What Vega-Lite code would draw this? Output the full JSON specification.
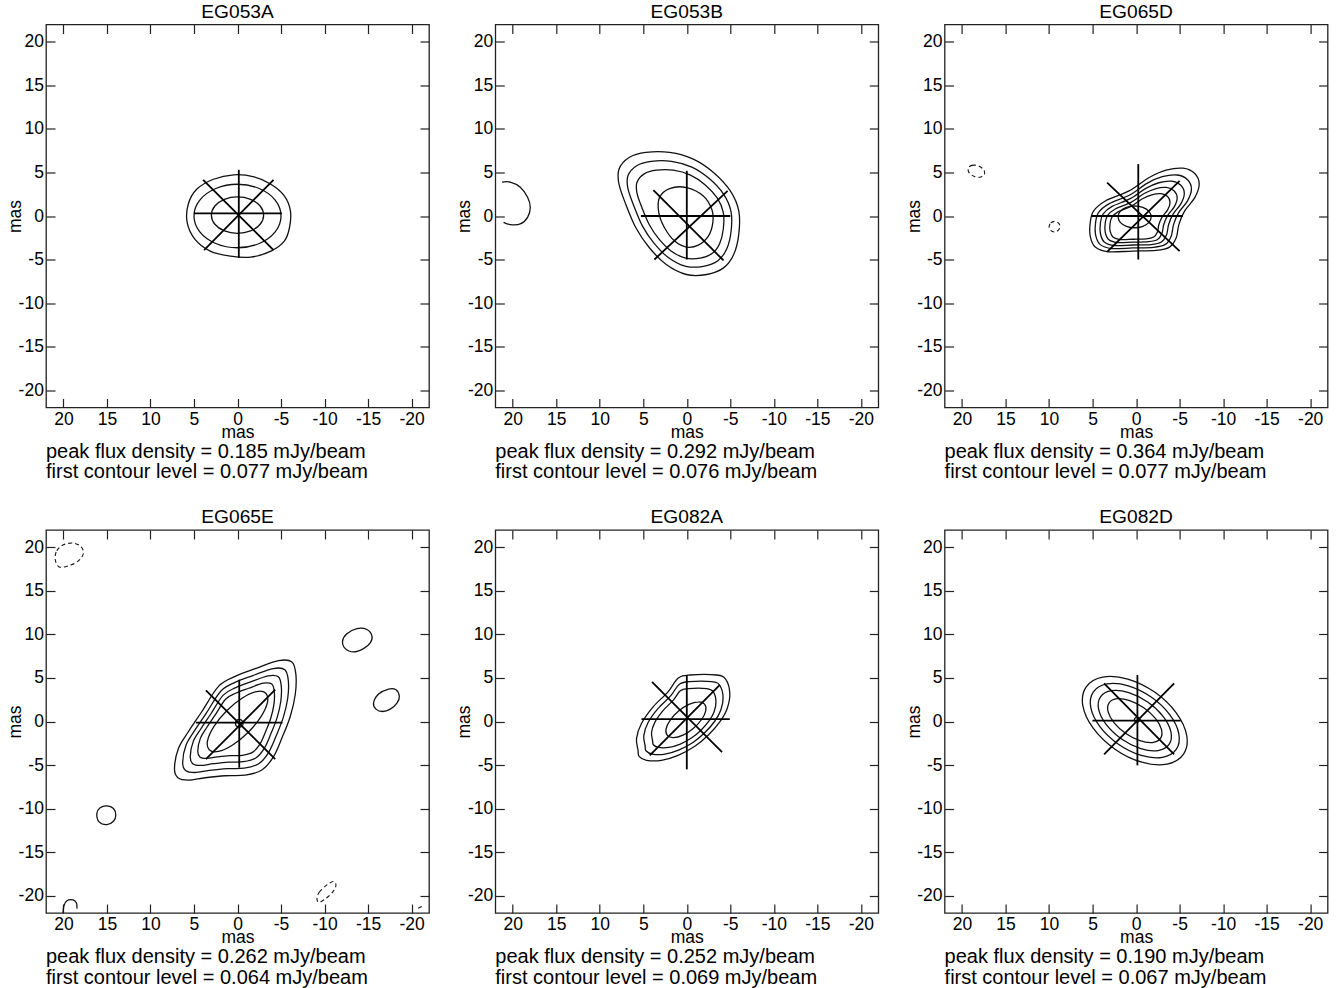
{
  "$schema": "https://vega.github.io/schema/vega-lite/v6.json",
  "background": "white",
  "padding": {"left": 5, "top": 1.5, "right": 5, "bottom": 5},
  "data": {"values": [
    {"p":"EG053A","k":"c","id":"a1","i":[0,1,2,3,4,5,6,7,8,9,10,11,12,13,14,15],"x":[0.43,-1.90,-3.84,-5.38,-6.08,-5.97,-5.38,-3.84,-1.51,0.81,3.14,4.88,5.78,5.66,4.69,2.76],"y":[4.73,4.50,3.65,2.31,0.58,-1.35,-2.88,-4.03,-4.73,-4.61,-4.03,-2.69,-0.77,1.35,3.07,4.22]},
    {"p":"EG053A","k":"c","id":"a2","i":[0,1,2,3,4,5,6,7,8,9,10,11],"x":[5.0,4.33,2.5,0,-2.5,-4.33,-5.0,-4.33,-2.5,0,2.5,4.33],"y":[0,1.83,3.16,3.65,3.16,1.83,0,-1.83,-3.16,-3.65,-3.16,-1.83]},
    {"p":"EG053A","k":"c","id":"a3","i":[0,1,2,3,4,5,6,7,8,9,10,11],"x":[3.0,2.6,1.5,0,-1.5,-2.6,-3.0,-2.6,-1.5,0,1.5,2.6],"y":[0.1,1.15,1.92,2.2,1.92,1.15,0.1,-0.95,-1.72,-2.0,-1.72,-0.95]},
    {"p":"EG053A","k":"x","x":[5.0,-0.15,3.95,3.84],"y":[0.3,5.3,4.16,-3.91],"x2":[-5.1,-0.15,-4.14,-4.14],"y2":[0.3,-4.8,-3.91,4.16]},
    {"p":"EG053A","k":"n","note":"peak flux density = 0.185 mJy/beam\nfirst contour level = 0.077 mJy/beam"},

    {"p":"EG053B","k":"o","id":"b0","i":[0,1,2,3,4,5,6,7,8],"x":[21.23,20.28,19.13,18.29,17.98,18.29,19.13,20.28,21.05],"y":[3.89,3.89,3.31,2.16,1.0,-0.15,-0.91,-0.99,-0.73]},
    {"p":"EG053B","k":"c","id":"b1","i":[0,1,2,3,4,5,6,7,8,9,10,11,12,13,14,15,16,17],"x":[7.79,6.63,4.69,1.98,-0.74,-3.06,-5.0,-5.97,-5.97,-5.39,-4.22,-2.29,0.04,2.36,4.30,5.85,7.01,7.79],"y":[5.38,6.72,7.30,7.30,6.53,5.0,2.88,0.58,-2.11,-4.42,-5.96,-6.72,-6.72,-5.57,-3.65,-1.35,1.35,3.65]},
    {"p":"EG053B","k":"c","id":"b2","i":[0,1,2,3,4,5,6,7,8,9,10,11,12,13,14,15,16,17],"x":[6.76,5.76,4.09,1.76,-0.58,-2.58,-4.24,-5.08,-5.08,-4.58,-3.57,-1.91,0.09,2.09,3.75,5.09,6.08,6.76],"y":[4.63,5.78,6.28,6.28,5.62,4.30,2.48,0.50,-1.81,-3.80,-5.13,-5.78,-5.78,-4.79,-3.14,-1.16,1.16,3.14]},
    {"p":"EG053B","k":"c","id":"b3","i":[0,1,2,3,4,5,6,7,8,9,10,11,12,13,14,15,16,17],"x":[5.72,4.89,3.49,1.54,-0.42,-2.09,-3.49,-4.19,-4.19,-3.77,-2.93,-1.54,0.14,1.81,3.21,4.32,5.16,5.72],"y":[3.87,4.84,5.26,5.26,4.70,3.60,2.07,0.42,-1.52,-3.18,-4.29,-4.84,-4.84,-4.01,-2.63,-0.97,0.97,2.63]},
    {"p":"EG053B","k":"c","id":"b4","i":[0,1,2,3,4,5,6,7,8,9,10,11],"x":[3.14,1.98,0.04,-1.90,-2.87,-2.99,-2.48,-1.32,0.04,1.40,2.56,3.22],"y":[2.11,3.15,3.27,2.31,0.77,-0.77,-2.31,-3.35,-3.57,-2.88,-1.35,0.38]},
    {"p":"EG053B","k":"x","x":[5.27,0,3.84,3.72],"y":[0,5.19,2.96,-5.0],"x2":[-5.0,0,-4.22,-4.69],"y2":[0,-5.0,-5.11,2.88]},
    {"p":"EG053B","k":"n","note":"peak flux density = 0.292 mJy/beam\nfirst contour level = 0.076 mJy/beam"},

    {"p":"EG065D","k":"cd","id":"cd1","i":[0,1,2,3,4,5,6,7],"x":[19.29,18.86,18.13,17.53,17.41,17.84,18.57,19.17],"y":[5.49,5.82,5.76,5.34,4.81,4.48,4.54,4.96]},
    {"p":"EG065D","k":"cd","id":"cd2","i":[0,1,2,3,4,5,6,7],"x":[9.99,9.8,9.35,8.9,8.75,8.95,9.4,9.85],"y":[-1.2,-0.8,-0.62,-0.82,-1.25,-1.65,-1.84,-1.62]},
    {"p":"EG065D","k":"c","id":"c1","i":[0,1,2,3,4,5,6,7,8,9,10,11,12,13,14,15,16,17,18],"x":[5.27,4.88,3.53,0.81,-1.51,-3.45,-5.39,-6.74,-7.25,-6.74,-5.58,-4.92,-4.61,-3.84,-2.29,0.43,3.14,4.69,5.27],"y":[-0.77,0.58,1.73,2.88,4.42,5.26,5.49,4.88,3.65,2.11,0.58,-0.96,-2.50,-3.57,-3.96,-4.03,-4.11,-3.57,-2.31]},
    {"p":"EG065D","k":"c","id":"c2","i":[0,1,2,3,4,5,6,7,8,9,10,11,12,13,14,15,16,17,18],"x":[4.66,4.32,3.13,0.74,-1.30,-3.01,-4.72,-5.91,-6.36,-5.91,-4.89,-4.31,-4.03,-3.36,-1.99,0.40,2.79,4.15,4.66],"y":[-0.80,0.39,1.40,2.41,3.77,4.51,4.71,4.17,3.09,1.74,0.39,-0.96,-2.32,-3.26,-3.60,-3.67,-3.74,-3.26,-2.15]},
    {"p":"EG065D","k":"c","id":"c3","i":[0,1,2,3,4,5,6,7,8,9,10,11,12,13,14,15,16,17,18],"x":[4.10,3.80,2.76,0.67,-1.12,-2.61,-4.10,-5.14,-5.54,-5.14,-4.25,-3.74,-3.50,-2.91,-1.72,0.38,2.46,3.66,4.10],"y":[-0.82,0.22,1.10,1.99,3.17,3.82,4.00,3.53,2.58,1.39,0.22,-0.97,-2.16,-2.98,-3.28,-3.33,-3.39,-2.98,-2.01]},
    {"p":"EG065D","k":"c","id":"c4","i":[0,1,2,3,4,5,6,7,8,9,10,11,12,13,14,15,16,17,18],"x":[3.55,3.29,2.40,0.60,-0.93,-2.21,-3.49,-4.38,-4.72,-4.38,-3.61,-3.18,-2.97,-2.47,-1.44,0.35,2.14,3.16,3.55],"y":[-0.85,0.04,0.80,1.56,2.58,3.13,3.28,2.88,2.07,1.05,0.04,-0.97,-1.99,-2.70,-2.95,-3.00,-3.05,-2.70,-1.86]},
    {"p":"EG065D","k":"c","id":"c5","i":[0,1,2,3,4,5,6,7,8,9,10,11,12,13,14,15,16,17,18],"x":[2.99,2.77,2.03,0.54,-0.74,-1.81,-2.87,-3.62,-3.90,-3.62,-2.98,-2.62,-2.45,-2.02,-1.17,0.33,1.82,2.67,2.99],"y":[-0.87,-0.13,0.50,1.13,1.98,2.44,2.57,2.23,1.56,0.71,-0.13,-0.98,-1.83,-2.41,-2.63,-2.67,-2.71,-2.41,-1.72]},
    {"p":"EG065D","k":"c","id":"c6","i":[0,1,2,3,4,5,6,7,8,9,10,11],"x":[2.07,1.82,1.12,0.17,-0.78,-1.48,-1.73,-1.48,-0.78,0.17,1.12,1.82],"y":[-0.1,0.53,0.98,1.15,0.98,0.53,-0.1,-0.73,-1.18,-1.35,-1.18,-0.73]},
    {"p":"EG065D","k":"x","x":[5.08,-0.25,3.33,3.33],"y":[0,5.96,3.84,-4.11],"x2":[-5.39,-0.25,-5.0,-5.0],"y2":[0,-5.0,-4.03,4.03]},
    {"p":"EG065D","k":"n","note":"peak flux density = 0.364 mJy/beam\nfirst contour level = 0.077 mJy/beam"},

    {"p":"EG065E","k":"cd","id":"dn1","i":[0,1,2,3,4,5,6,7,8],"x":[20.95,20.76,20.0,18.85,17.97,17.70,18.28,19.43,20.49],"y":[18.64,19.61,20.3,20.49,20.07,19.30,18.45,17.88,17.76]},
    {"p":"EG065E","k":"cd","id":"dn2","i":[0,1,2,3,4,5,6,7],"x":[-9.13,-9.39,-10.28,-11.03,-11.31,-10.92,-10.08,-9.39],"y":[-20.38,-19.61,-18.77,-18.38,-18.84,-19.61,-20.38,-20.76]},
    {"p":"EG065E","k":"c","id":"de1","i":[0,1,2,3,4,5,6,7,8],"x":[-12.07,-12.57,-13.72,-14.87,-15.45,-15.25,-14.48,-13.33,-12.38],"y":[9.23,10.07,10.68,10.57,9.80,9.03,8.37,7.99,8.37]},
    {"p":"EG065E","k":"c","id":"de2","i":[0,1,2,3,4,5,6,7,8],"x":[-15.63,-16.21,-17.36,-18.21,-18.59,-18.32,-17.55,-16.67,-15.91],"y":[2.11,3.15,3.73,3.65,2.88,2.11,1.42,1.15,1.42]},
    {"p":"EG065E","k":"c","id":"de3","i":[0,1,2,3,4,5,6,7],"x":[16.16,15.78,15.01,14.25,13.98,14.25,15.01,15.90],"y":[-10.58,-9.92,-9.69,-10.0,-10.77,-11.46,-11.85,-11.53]},
    {"p":"EG065E","k":"o","id":"do1","i":[0,1,2,3,4,5],"x":[20.05,19.95,19.6,18.9,18.5,18.45],"y":[-22.3,-21.2,-20.6,-20.5,-20.85,-21.5]},
    {"p":"EG065E","k":"od","id":"do2","i":[0,1],"x":[-20.75,-21.4],"y":[-21.45,-21.15]},
    {"p":"EG065E","k":"c","id":"d1","i":[0,1,2,3,4,5,6,7,8,9,10,11,12,13,14,15,16,17,18,19],"x":[7.24,6.78,5.63,4.09,2.18,0.26,-2.03,-4.71,-6.25,-6.71,-6.63,-6.06,-5.17,-4.14,-2.80,-0.89,1.41,3.71,5.63,6.85],"y":[-5.39,-3.08,-1.15,1.15,4.04,5.19,6.07,6.99,6.84,5.38,3.07,0.58,-1.73,-4.04,-5.58,-6.16,-6.23,-6.46,-6.73,-6.46]},
    {"p":"EG065E","k":"c","id":"d2","i":[0,1,2,3,4,5,6,7,8,9,10,11,12,13,14,15,16,17,18,19],"x":[6.30,5.90,4.90,3.56,1.90,0.23,-1.77,-4.10,-5.44,-5.84,-5.77,-5.27,-4.50,-3.60,-2.44,-0.77,1.23,3.23,4.90,5.96],"y":[-4.69,-2.68,-1.00,1.00,3.51,4.52,5.28,6.08,5.95,4.68,2.67,0.50,-1.51,-3.51,-4.85,-5.36,-5.42,-5.62,-5.86,-5.62]},
    {"p":"EG065E","k":"c","id":"d3","i":[0,1,2,3,4,5,6,7,8,9,10,11,12,13,14,15,16,17,18,19],"x":[5.43,5.09,4.22,3.07,1.64,0.20,-1.52,-3.53,-4.69,-5.03,-4.97,-4.55,-3.88,-3.11,-2.10,-0.67,1.06,2.78,4.22,5.14],"y":[-4.04,-2.31,-0.86,0.86,3.03,3.89,4.55,5.24,5.13,4.04,2.30,0.44,-1.30,-3.03,-4.19,-4.62,-4.67,-4.85,-5.05,-4.85]},
    {"p":"EG065E","k":"c","id":"d4","i":[0,1,2,3,4,5,6,7,8,9,10,11,12,13,14,15,16,17,18,19],"x":[4.56,4.27,3.55,2.58,1.37,0.16,-1.28,-2.97,-3.94,-4.23,-4.18,-3.82,-3.26,-2.61,-1.76,-0.56,0.89,2.34,3.55,4.32],"y":[-3.40,-1.94,-0.72,0.72,2.55,3.27,3.82,4.40,4.31,3.39,1.93,0.37,-1.09,-2.55,-3.52,-3.88,-3.92,-4.07,-4.24,-4.07]},
    {"p":"EG065E","k":"c","id":"d5","i":[0,1,2,3,4,5,6,7,8,9,10,11],"x":[-3.25,-2.20,-0.56,1.24,2.70,3.44,3.25,2.20,0.56,-1.24,-2.70,-3.44],"y":[3.25,3.44,2.70,1.24,-0.56,-2.20,-3.25,-3.44,-2.70,-1.24,0.56,2.20]},
    {"p":"EG065E","k":"c","id":"d6","i":[0,1,2,3,4,5],"x":[0.25,0.02,-0.42,-0.65,-0.42,0.02],"y":[-0.2,0.19,0.19,-0.2,-0.59,-0.59]},
    {"p":"EG065E","k":"x","x":[4.78,-0.2,3.63,3.63],"y":[-0.12,4.8,3.57,-4.31],"x2":[-5.17,-0.2,-4.33,-4.33],"y2":[-0.12,-5.31,-4.31,3.65]},
    {"p":"EG065E","k":"n","note":"peak flux density = 0.262 mJy/beam\nfirst contour level = 0.064 mJy/beam"},

    {"p":"EG082A","k":"c","id":"e1","i":[0,1,2,3,4,5,6,7,8,9,10,11,12,13,14,15,16,17],"x":[5.60,5.78,5.21,3.87,2.15,1.00,-0.34,-3.41,-4.48,-4.94,-4.64,-3.79,-2.45,-0.92,1.00,2.91,4.63,5.48],"y":[-3.31,-1.96,-0.23,1.68,3.41,4.96,5.34,5.34,4.84,3.23,1.50,-0.05,-1.58,-2.85,-3.89,-4.46,-4.46,-4.0]},
    {"p":"EG082A","k":"c","id":"e2","i":[0,1,2,3,4,5,6,7,8,9,10,11,12,13,14,15,16,17],"x":[4.79,4.94,4.46,3.32,1.86,0.88,-0.26,-2.87,-3.78,-4.17,-3.91,-3.19,-2.05,-0.75,0.88,2.50,3.97,4.69],"y":[-2.77,-1.62,-0.15,1.47,2.94,4.26,4.58,4.58,4.16,2.79,1.32,0.0,-1.30,-2.38,-3.26,-3.75,-3.75,-3.36]},
    {"p":"EG082A","k":"c","id":"e3","i":[0,1,2,3,4,5,6,7,8,9,10,11,12,13,14,15,16,17],"x":[3.93,4.05,3.66,2.73,1.55,0.75,-0.17,-2.29,-3.03,-3.35,-3.14,-2.55,-1.63,-0.57,0.75,2.07,3.26,3.84],"y":[-2.19,-1.26,-0.07,1.25,2.45,3.52,3.78,3.78,3.43,2.32,1.13,0.06,-1.0,-1.87,-2.59,-2.98,-2.98,-2.67]},
    {"p":"EG082A","k":"c","id":"e4","i":[0,1,2,3,4,5,6,7,8,9,10,11],"x":[-2.04,-1.34,-0.24,0.94,1.90,2.38,2.24,1.54,0.44,-0.74,-1.70,-2.18],"y":[2.0,2.26,1.97,1.2,0.17,-0.86,-1.6,-1.86,-1.57,-0.8,0.23,1.26]},
    {"p":"EG082A","k":"x","x":[5.21,0,4.0,4.25],"y":[0.27,5.34,4.55,-3.9],"x2":[-4.94,0,-4.05,-3.8],"y2":[0.27,-5.5,-3.52,4.2]},
    {"p":"EG082A","k":"n","note":"peak flux density = 0.252 mJy/beam\nfirst contour level = 0.069 mJy/beam"},

    {"p":"EG082D","k":"c","id":"f1","i":[0,1,2,3,4,5,6,7,8,9,10,11],"x":[5.73,3.84,0.96,-2.13,-4.61,-5.82,-5.43,-3.54,-0.66,2.43,4.91,6.12],"y":[3.98,5.10,4.88,3.38,1.00,-1.62,-3.78,-4.90,-4.68,-3.18,-0.80,1.82]},
    {"p":"EG082D","k":"c","id":"f2","i":[0,1,2,3,4,5,6,7,8,9,10,11],"x":[4.91,3.33,0.90,-1.73,-3.86,-4.91,-4.61,-3.03,-0.60,2.03,4.16,5.21],"y":[3.41,4.32,4.10,2.81,0.79,-1.41,-3.21,-4.12,-3.90,-2.61,-0.59,1.61]},
    {"p":"EG082D","k":"c","id":"f3","i":[0,1,2,3,4,5,6,7,8,9,10,11],"x":[4.09,2.82,0.84,-1.33,-3.10,-4.00,-3.79,-2.52,-0.54,1.63,3.40,4.30],"y":[2.84,3.54,3.31,2.23,0.58,-1.20,-2.64,-3.34,-3.11,-2.03,-0.38,1.40]},
    {"p":"EG082D","k":"c","id":"f4","i":[0,1,2,3,4,5,6,7,8,9,10,11],"x":[3.10,2.19,0.74,-0.88,-2.22,-2.92,-2.80,-1.89,-0.44,1.18,2.52,3.22],"y":[2.15,2.62,2.40,1.58,0.35,-0.94,-1.95,-2.42,-2.20,-1.38,-0.15,1.14]},
    {"p":"EG082D","k":"c","id":"f5","i":[0,1,2,3,4,5],"x":[0.2,0.05,-0.25,-0.4,-0.25,0.05],"y":[0.2,0.45,0.45,0.2,-0.05,-0.05]},
    {"p":"EG082D","k":"x","x":[5.02,-0.15,3.68,3.68],"y":[0.1,5.34,4.38,-3.77],"x2":[-5.14,-0.15,-4.37,-4.37],"y2":[0.1,-5.04,-3.77,4.38]},
    {"p":"EG082D","k":"n","note":"peak flux density = 0.190 mJy/beam\nfirst contour level = 0.067 mJy/beam"}
  ]},
  "facet": {"field": "p", "type": "nominal", "header": {"title": null, "labelFontSize": 19.2, "labelFont": "Liberation Sans", "labelColor": "#000", "labelPadding": 2}},
  "columns": 3,
  "spacing": {"column": 23.3, "row": 23.5},
  "resolve": {"axis": {"x": "independent", "y": "independent"}},
  "spec": {
    "width": 383,
    "height": 383,
    "layer": [
      {
        "transform": [{"filter": "datum.k === 'c'"}, {"flatten": ["i", "x", "y"]}],
        "mark": {"type": "line", "interpolate": "cardinal-closed", "clip": true, "stroke": "#111", "strokeWidth": 1.3},
        "encoding": {
          "x": {"field": "x", "type": "quantitative", "scale": {"domain": [22, -22], "nice": false, "zero": false},
                "axis": {"orient": "bottom", "values": [20, 15, 10, 5, 0, -5, -10, -15, -20], "title": "mas", "titlePadding": -4.5, "labelExpr": "'' + datum.value"}},
          "y": {"field": "y", "type": "quantitative", "scale": {"domain": [-22, 22], "nice": false, "zero": false},
                "axis": {"orient": "left", "values": [-20, -15, -10, -5, 0, 5, 10, 15, 20], "title": "mas", "titlePadding": -6.5, "labelExpr": "'' + datum.value"}},
          "detail": {"field": "id", "type": "nominal"},
          "order": {"field": "i", "type": "quantitative"}
        }
      },
      {
        "transform": [{"filter": "datum.k === 'cd'"}, {"flatten": ["i", "x", "y"]}],
        "mark": {"type": "line", "interpolate": "cardinal-closed", "clip": true, "stroke": "#111", "strokeWidth": 1.1, "strokeDash": [4, 3]},
        "encoding": {
          "x": {"field": "x", "type": "quantitative", "scale": {"domain": [22, -22], "nice": false, "zero": false}, "axis": null},
          "y": {"field": "y", "type": "quantitative", "scale": {"domain": [-22, 22], "nice": false, "zero": false}, "axis": null},
          "detail": {"field": "id", "type": "nominal"},
          "order": {"field": "i", "type": "quantitative"}
        }
      },
      {
        "transform": [{"filter": "datum.k === 'o'"}, {"flatten": ["i", "x", "y"]}],
        "mark": {"type": "line", "interpolate": "cardinal", "clip": true, "stroke": "#111", "strokeWidth": 1.3},
        "encoding": {
          "x": {"field": "x", "type": "quantitative", "scale": {"domain": [22, -22], "nice": false, "zero": false}, "axis": null},
          "y": {"field": "y", "type": "quantitative", "scale": {"domain": [-22, 22], "nice": false, "zero": false}, "axis": null},
          "detail": {"field": "id", "type": "nominal"},
          "order": {"field": "i", "type": "quantitative"}
        }
      },
      {
        "transform": [{"filter": "datum.k === 'od'"}, {"flatten": ["i", "x", "y"]}],
        "mark": {"type": "line", "interpolate": "linear", "clip": true, "stroke": "#111", "strokeWidth": 1.1, "strokeDash": [4, 3]},
        "encoding": {
          "x": {"field": "x", "type": "quantitative", "scale": {"domain": [22, -22], "nice": false, "zero": false}, "axis": null},
          "y": {"field": "y", "type": "quantitative", "scale": {"domain": [-22, 22], "nice": false, "zero": false}, "axis": null},
          "detail": {"field": "id", "type": "nominal"},
          "order": {"field": "i", "type": "quantitative"}
        }
      },
      {
        "transform": [{"filter": "datum.k === 'x'"}, {"flatten": ["x", "y", "x2", "y2"]}],
        "mark": {"type": "rule", "stroke": "#000", "strokeWidth": 1.8},
        "encoding": {
          "x": {"field": "x", "type": "quantitative", "scale": {"domain": [22, -22], "nice": false, "zero": false},
                "axis": {"orient": "top", "values": [20, 15, 10, 5, 0, -5, -10, -15, -20], "labels": false, "title": null}},
          "y": {"field": "y", "type": "quantitative", "scale": {"domain": [-22, 22], "nice": false, "zero": false},
                "axis": {"orient": "right", "values": [-20, -15, -10, -5, 0, 5, 10, 15, 20], "labels": false, "title": null}},
          "x2": {"field": "x2"},
          "y2": {"field": "y2"}
        }
      },
      {
        "transform": [{"filter": "datum.k === 'n'"}],
        "mark": {"type": "text", "align": "left", "baseline": "alphabetic", "fontSize": 20, "font": "Liberation Sans", "color": "#000", "lineBreak": "\n", "lineHeight": 20.5},
        "encoding": {
          "x": {"datum": 22, "type": "quantitative", "scale": {"domain": [22, -22], "nice": false, "zero": false}, "axis": null},
          "y": {"datum": -27.8, "type": "quantitative", "scale": {"domain": [-22, 22], "nice": false, "zero": false}, "axis": null},
          "text": {"field": "note", "type": "nominal"}
        }
      }
    ],
    "resolve": {"axis": {"x": "independent", "y": "independent"}}
  },
  "config": {
    "view": {"stroke": "#222", "strokeWidth": 1.3},
    "font": "Liberation Sans",
    "axis": {
      "domain": false,
      "grid": false,
      "ticks": true,
      "tickColor": "#222",
      "tickSize": -9,
      "tickWidth": 1.2,
      "labelPadding": 11.6,
      "labelFont": "Liberation Sans",
      "labelFontSize": 17.5,
      "labelColor": "#000",
      "labelFlush": false,
      "labelOverlap": false,
      "titleFont": "Liberation Sans",
      "titleFontSize": 17.5,
      "titleFontWeight": "normal",
      "titleColor": "#000"
    }
  }
}
